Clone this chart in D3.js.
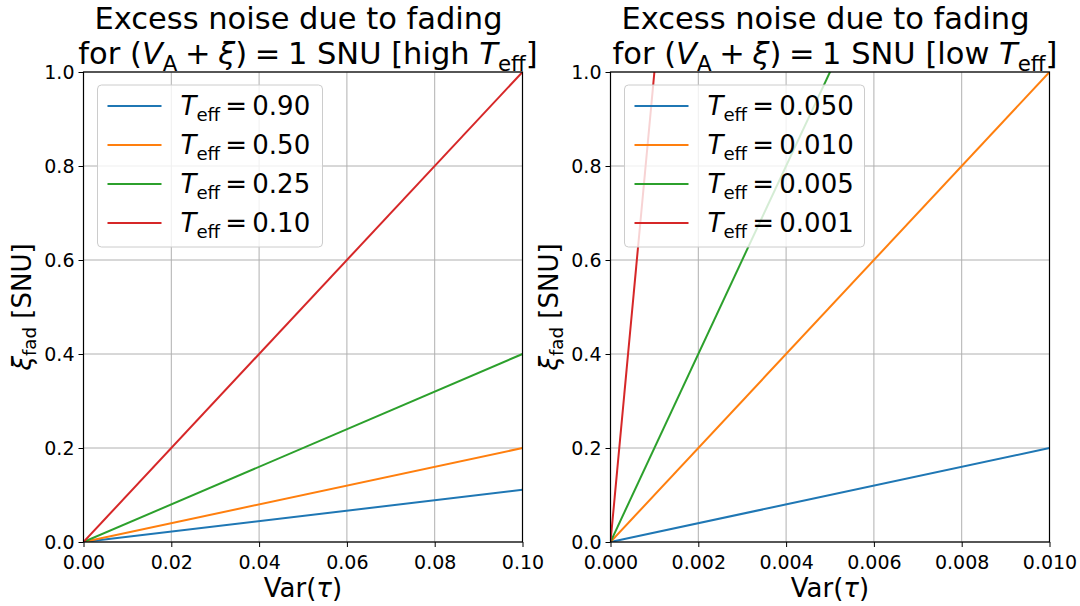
<!DOCTYPE html>
<html><head><meta charset="utf-8">
<script src="https://cdn.jsdelivr.net/npm/d3@7"></script>
<style>body{margin:0;background:#fff}svg{display:block}text{font-family:"DejaVu Sans",sans-serif}</style>
</head><body><svg id="c" width="1080" height="606"></svg>
<script>
// ---- data ----
const leftTeff = ["0.90","0.50","0.25","0.10"];
const leftX = [0, 0.1];
const leftY = [[0,0.111],[0,0.2],[0,0.4],[0,1.0]];
const leftXTicks = [0,0.02,0.04,0.06,0.08,0.10];
const leftTitleTag = "high";

const rightTeff = ["0.050","0.010","0.005","0.001"];
const rightX = [0, 0.01];
const rightY = [[0,0.2],[0,1.0],[0,2.0],[0,10.0]];
const rightXTicks = [0,0.002,0.004,0.006,0.008,0.010];
const rightTitleTag = "low";

const yTicks = [0,0.2,0.4,0.6,0.8,1.0];
const colors = ["#1f77b4","#ff7f0e","#2ca02c","#d62728"];

const svg = d3.select("#c");
const TS = "\u2009";
const MS = "\u2005";

function rich(sel, parts, size){
  let cur = 0;
  parts.forEach(p=>{
    const [t, st] = p;
    const sub = st && st.includes("s");
    const it = st && st.includes("i");
    const target = sub ? size*0.22 : 0;
    sel.append("tspan").text(t)
      .attr("font-size", sub ? size*0.7 : size)
      .attr("font-style", it ? "oblique" : "normal")
      .attr("dy", target - cur);
    cur = target;
  });
}

function panel(ox, xDomain, xTicks, xFmt, ys, xs, labels, tag){
  const W = 439, top = 72, bot = 542;
  const x = d3.scaleLinear().domain(xDomain).range([ox, ox+W]);
  const y = d3.scaleLinear().domain([0,1]).range([bot, top]);
  const g = svg.append("g");
  const id = "clip"+Math.round(ox);
  svg.append("defs").append("clipPath").attr("id", id)
    .append("rect").attr("x", ox).attr("y", top).attr("width", W).attr("height", bot-top);
  g.selectAll(".gx").data(xTicks).join("line")
    .attr("x1", d=>x(d)).attr("x2", d=>x(d)).attr("y1", top).attr("y2", bot)
    .attr("stroke", "#b0b0b0").attr("stroke-width", 1);
  g.selectAll(".gy").data(yTicks).join("line")
    .attr("y1", d=>y(d)).attr("y2", d=>y(d)).attr("x1", ox).attr("x2", ox+W)
    .attr("stroke", "#b0b0b0").attr("stroke-width", 1);
  const line = d3.line().x((d,i)=>x(xs[i])).y(d=>y(d));
  g.append("g").attr("clip-path", `url(#${id})`).selectAll("path").data(ys).join("path")
    .attr("d", d=>line(d)).attr("fill","none").attr("stroke",(d,i)=>colors[i]).attr("stroke-width",2);
  const ax = g.append("g").attr("transform", `translate(0,${bot})`)
    .call(d3.axisBottom(x).tickValues(xTicks).tickFormat(xFmt).tickSize(5).tickPadding(4));
  const ay = g.append("g").attr("transform", `translate(${ox},0)`)
    .call(d3.axisLeft(y).tickValues(yTicks).tickFormat(d3.format(".1f")).tickSize(5).tickPadding(4));
  [ax, ay].forEach(a=>{
    a.selectAll("text").attr("font-size", 19).attr("font-family","DejaVu Sans").attr("fill","#000");
    a.selectAll("line").attr("stroke","#000").attr("stroke-width",1);
    a.select(".domain").remove();
  });
  ax.selectAll("text").attr("dy", "0.95em");
  g.append("rect").attr("x", ox).attr("y", top).attr("width", W).attr("height", bot-top)
    .attr("fill","none").attr("stroke","#000").attr("stroke-width",1.2);
  const lx = ox+14, ly = 85;
  g.append("rect").attr("x", lx).attr("y", ly).attr("width", tag==="high"?225:240).attr("height", 162)
    .attr("rx", 4).attr("fill","rgba(255,255,255,0.8)").attr("stroke","#cccccc").attr("stroke-width",1);
  labels.forEach((lab,i)=>{
    const yy = 106 + i*39;
    g.append("line").attr("x1", lx+10).attr("x2", lx+64).attr("y1", yy).attr("y2", yy)
      .attr("stroke", colors[i]).attr("stroke-width", 2);
    const t = g.append("text").attr("x", lx+83).attr("y", yy+9).attr("fill","#000");
    rich(t, [["T","i"],["eff","s"],[TS+"="+TS+lab,""]], 26);
  });
  const xl = g.append("text").attr("x", ox+W/2).attr("y", 597).attr("text-anchor","middle").attr("fill","#000");
  rich(xl, [["Var(",""],["τ","i"],[")",""]], 26);
  const yl = g.append("text").attr("transform", `translate(${ox-53},${(top+bot)/2}) rotate(-90)`)
    .attr("text-anchor","middle").attr("fill","#000");
  rich(yl, [["ξ","i"],["fad","s"],[" [SNU]",""]], 26);
  const cx = ox+W/2;
  g.append("text").attr("x", cx-4.5).attr("y", 29).attr("text-anchor","middle").attr("font-size",30.5).attr("fill","#000")
    .text("Excess noise due to fading");
  const t2 = g.append("text").attr("x", cx+5).attr("y", 64).attr("text-anchor","middle").attr("fill","#000");
  rich(t2, [["for (",""],["V","i"],["A","s"],[MS+"+"+MS,""],["ξ","i"],[")"+MS+"="+MS+"1 SNU ["+tag+" ",""],["T","i"],["eff","s"],["]",""]], 30.5);
}

panel(83.5, [0,0.1], leftXTicks, d3.format(".2f"), leftY, leftX, leftTeff, leftTitleTag);
panel(610.5, [0,0.01], rightXTicks, d3.format(".3f"), rightY, rightX, rightTeff, rightTitleTag);
</script></body></html>
